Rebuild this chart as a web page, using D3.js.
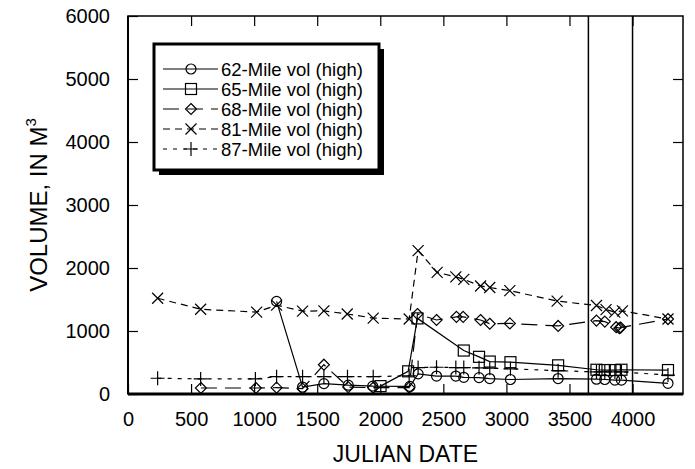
<!DOCTYPE html>
<html>
<head>
<meta charset="utf-8">
<script src="https://cdn.jsdelivr.net/npm/d3@7"></script>
<style>
  body { margin: 0; background: #fff; }
  svg { font-family: "Liberation Sans", Arial, sans-serif; }
</style>
</head>
<body>
<div id="chart-area"></div>
<script>
// values (julian date, volume m3)
const x62 = [1178, 1384, 1553, 1746, 1940, 2235, 2300, 2446, 2599, 2662, 2783, 2868, 3032, 3410, 3714, 3780, 3860, 3912, 4281]
const v62 = [1470, 110, 165, 140, 125, 120, 320, 285, 285, 265, 260, 245, 230, 245, 235, 230, 220, 220, 170]

const x65 = [2002, 2221, 2295, 2662, 2783, 2868, 3032, 3410, 3714, 3780, 3860, 3912, 4281]
const v65 = [125, 360, 1200, 690, 590, 515, 505, 455, 385, 380, 380, 385, 380]

const x68 = [578, 1014, 1178, 1384, 1553, 1746, 1944, 2229, 2295, 2446, 2604, 2657, 2795, 2868, 3027, 3410, 3714, 3780, 3870, 3895, 3905, 4281]
const v68 = [95, 95, 100, 85, 465, 110, 100, 100, 1270, 1175, 1225, 1225, 1175, 1115, 1120, 1080, 1165, 1150, 1060, 1045, 1055, 1190]

const x81 = [235, 576, 1020, 1178, 1384, 1553, 1738, 1944, 2229, 2300, 2451, 2599, 2662, 2795, 2868, 3027, 3402, 3714, 3790, 3859, 3920, 4281]
const v81 = [1520, 1345, 1300, 1410, 1315, 1320, 1270, 1205, 1190, 2275, 1930, 1860, 1820, 1715, 1690, 1640, 1475, 1405, 1340, 1300, 1320, 1190]

const x87 = [235, 576, 1010, 1178, 1384, 1553, 1740, 1944, 2229, 2300, 2446, 2599, 2662, 2783, 2868, 3032, 3410, 3714, 3780, 3860, 3912, 4281]
const v87 = [250, 240, 240, 275, 275, 275, 275, 275, 290, 420, 425, 420, 420, 415, 410, 400, 370, 350, 350, 350, 350, 300]

const xTicks = [0, 500, 1000, 1500, 2000, 2500, 3000, 3500, 4000]
const yTicks = [0, 1000, 2000, 3000, 4000, 5000, 6000]
const refLines = [3650, 4000]

const series = [
    { name: "62-Mile vol (high)", xs: x62, vs: v62, symbol: "circle", dash: null },
    { name: "65-Mile vol (high)", xs: x65, vs: v65, symbol: "square", dash: null },
    { name: "68-Mile vol (high)", xs: x68, vs: v68, symbol: "diamond", dash: "16,8" },
    { name: "81-Mile vol (high)", xs: x81, vs: v81, symbol: "cross", dash: "7,5" },
    { name: "87-Mile vol (high)", xs: x87, vs: v87, symbol: "plus", dash: "4,6" }
]

const chartAreaWidth = 695
const chartAreaHeight = 469
const margin = {top: 16, right: 12, bottom: 75, left: 128}
const width = chartAreaWidth - margin.left - margin.right
const height = chartAreaHeight - margin.top - margin.bottom

const svg = d3.select("#chart-area").append("svg")
    .attr("width", chartAreaWidth)
    .attr("height", chartAreaHeight)

const g = svg.append("g")
    .attr("transform", `translate(${margin.left}, ${margin.top})`)

const x = d3.scaleLinear().domain([0, 4400]).range([0, width])
const y = d3.scaleLinear().domain([0, 6000]).range([height, 0])
const fmt = d3.format("d")

// axes, ticks pointing inwards on all four sides
const tickLen = 10
g.append("g")
    .attr("transform", `translate(0,${height})`)
    .call(d3.axisBottom(x).tickValues(xTicks).tickFormat(fmt).tickSize(-tickLen).tickPadding(tickLen + 8))
    .call(a => a.select(".domain").remove())
g.append("g")
    .call(d3.axisTop(x).tickValues(xTicks.slice(1)).tickSize(-tickLen).tickFormat(""))
    .call(a => a.select(".domain").remove())
g.append("g")
    .call(d3.axisLeft(y).tickValues(yTicks).tickFormat(fmt).tickSize(-tickLen).tickPadding(tickLen + 8))
    .call(a => a.select(".domain").remove())
g.append("g")
    .attr("transform", `translate(${width},0)`)
    .call(d3.axisRight(y).tickValues(yTicks.slice(1, -1)).tickSize(-tickLen).tickFormat(""))
    .call(a => a.select(".domain").remove())

g.selectAll(".tick text")
    .attr("font-size", 20)
    .attr("font-family", "Liberation Sans, Arial, sans-serif")
    .attr("fill", "#000")
g.selectAll(".tick line").attr("stroke", "#000").attr("stroke-width", 1.2)

// frame
g.append("rect")
    .attr("width", width)
    .attr("height", height)
    .attr("fill", "none")
    .attr("stroke", "#000")
    .attr("stroke-width", 1.5)
g.append("line")
    .attr("x1", 0).attr("x2", width)
    .attr("y1", height).attr("y2", height)
    .attr("stroke", "#000")
    .attr("stroke-width", 3)
g.append("line")
    .attr("x1", 0).attr("x2", 0)
    .attr("y1", 0).attr("y2", height)
    .attr("stroke", "#000")
    .attr("stroke-width", 2)

// vertical reference lines
g.selectAll(".ref")
    .data(refLines)
    .enter().append("line")
    .attr("x1", d => x(d)).attr("x2", d => x(d))
    .attr("y1", 0).attr("y2", height)
    .attr("stroke", "#000")
    .attr("stroke-width", 1.5)

function drawSymbol(sel, type) {
    const s = 5.5
    sel.attr("fill", "none").attr("stroke", "#000").attr("stroke-width", 1.2)
    if (type === "circle") sel.append("circle").attr("r", 5)
    if (type === "square") sel.append("rect").attr("x", -s).attr("y", -s).attr("width", 2 * s).attr("height", 2 * s)
    if (type === "diamond") sel.append("path").attr("d", `M0,${-s}L${s},0L0,${s}L${-s},0Z`)
    if (type === "cross") sel.append("path").attr("d", `M${-s},${-s}L${s},${s}M${-s},${s}L${s},${-s}`)
    if (type === "plus") sel.append("path").attr("d", `M-7,0L7,0M0,-7L0,7`)
}

const line = d3.line()
    .x(d => x(d[0]))
    .y(d => y(d[1]))

series.forEach(s => {
    const pts = s.xs.map((d, i) => [d, s.vs[i]])
    g.append("path")
        .datum(pts)
        .attr("fill", "none")
        .attr("stroke", "#000")
        .attr("stroke-width", 1.2)
        .attr("stroke-dasharray", s.dash)
        .attr("d", line)
    g.selectAll(null)
        .data(pts)
        .enter().append("g")
        .attr("transform", d => `translate(${x(d[0])},${y(d[1])})`)
        .each(function() { drawSymbol(d3.select(this), s.symbol) })
})

// legend box with drop shadow
const legend = svg.append("g").attr("transform", "translate(154,44)")
legend.append("rect")
    .attr("x", 5).attr("y", 5)
    .attr("width", 225).attr("height", 126)
    .attr("fill", "#000")
legend.append("rect")
    .attr("width", 225).attr("height", 126)
    .attr("fill", "#fff")
    .attr("stroke", "#000")
    .attr("stroke-width", 3)

series.forEach((s, i) => {
    const row = legend.append("g").attr("transform", `translate(0,${25 + i * 20})`)
    row.append("line")
        .attr("x1", 9).attr("x2", 64)
        .attr("stroke", "#000")
        .attr("stroke-width", 1.2)
        .attr("stroke-dasharray", s.dash)
    row.append("g")
        .attr("transform", "translate(37,0)")
        .each(function() { drawSymbol(d3.select(this), s.symbol) })
    row.append("text")
        .attr("x", 67)
        .attr("dy", "0.36em")
        .attr("font-size", 18.5)
        .text(s.name)
})

// axis titles
svg.append("text")
    .attr("x", margin.left + x(2200))
    .attr("y", 462)
    .attr("text-anchor", "middle")
    .attr("font-size", 23)
    .text("JULIAN DATE")

const yTitle = svg.append("text")
    .attr("transform", `translate(47, ${margin.top + y(3000)}) rotate(-90)`)
    .attr("text-anchor", "middle")
    .attr("font-size", 24)
yTitle.append("tspan").text("VOLUME, IN M")
yTitle.append("tspan").attr("font-size", 15).attr("dy", -11).text("3")
</script>
</body>
</html>
